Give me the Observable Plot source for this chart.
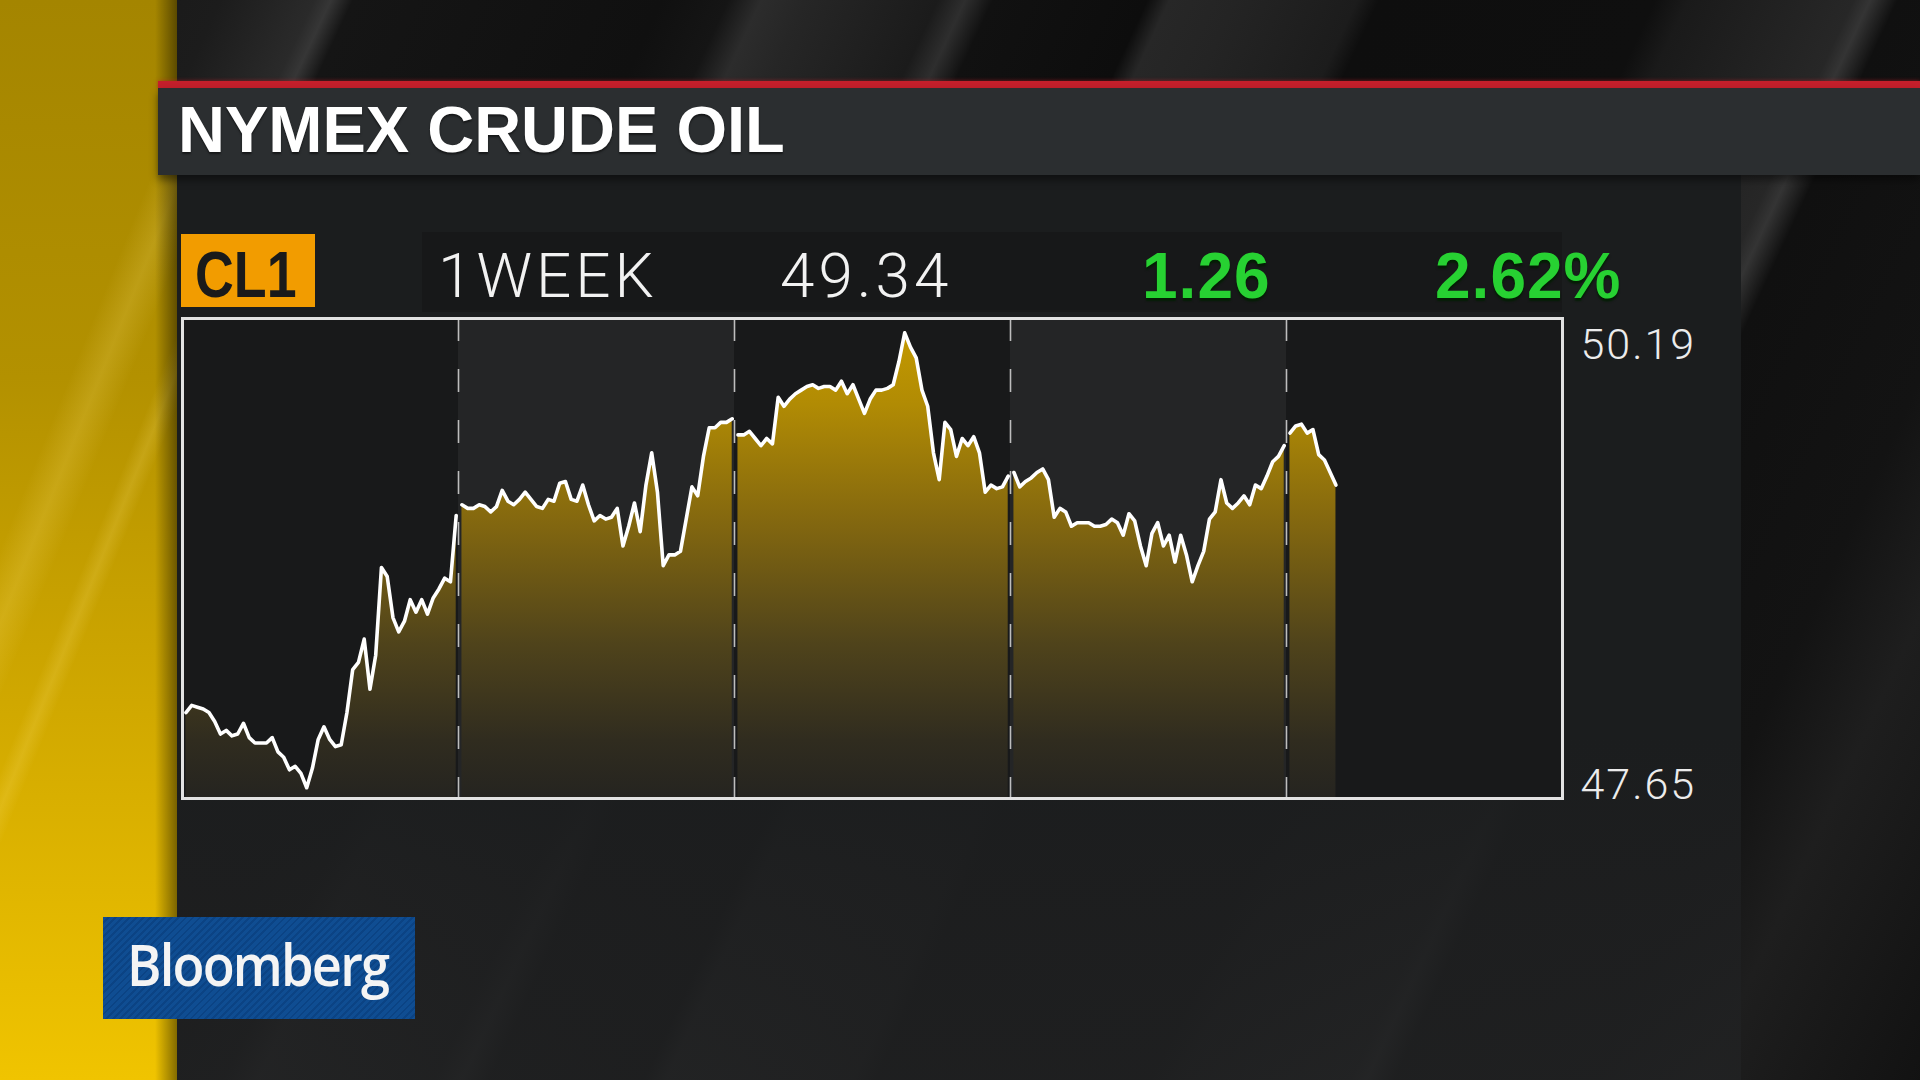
<!DOCTYPE html>
<html>
<head>
<meta charset="utf-8">
<script src="https://cdn.jsdelivr.net/npm/d3@7"></script>
<script src="https://cdn.jsdelivr.net/npm/@observablehq/plot@0.6"></script>
<style>
  html, body { margin: 0; padding: 0; width: 1920px; height: 1080px; overflow: hidden; background: #121212; }
  body { position: relative; font-family: "Liberation Sans", Arial, sans-serif; }
  .abs { position: absolute; }
  #stripes { left: 0; top: 0; width: 1920px; height: 1080px;
    background: linear-gradient(115deg,
      #161616 0px, #1c1c1c 200px, #2a2a2a 285px, #363636 300px, #151515 320px, #101010 600px,
      #151515 660px, #2c2c2c 690px, #262626 730px, #1b1b1b 850px, #2e2e2e 875px, #111111 900px,
      #0d0d0d 1040px, #272727 1060px, #242424 1120px, #1c1c1c 1230px, #0e0e0e 1250px,
      #0f0f0f 1500px, #1a1a1a 1530px, #272727 1680px, #343434 1695px, #101010 1720px,
      #131313 1900px, #1e1e1e 2000px, #121212 2200px); }
  #yellow { left: 0; top: 0; width: 177px; height: 1080px;
    background: linear-gradient(180deg, #a48500 0%, #b39100 35%, #d0a800 65%, #f0c400 100%); overflow: hidden; }
  #yellow .band { position: absolute; width: 60px; height: 1400px; top: -200px; transform: skewX(-22deg);
    background: linear-gradient(90deg, rgba(255,230,120,0) 0%, rgba(255,230,120,0.18) 50%, rgba(255,230,120,0) 100%); }
  #yellow .shade { position: absolute; right: 0; top: 0; width: 22px; height: 1080px;
    background: linear-gradient(90deg, rgba(0,0,0,0) 0%, rgba(0,0,0,0.45) 100%); }
  #panel { left: 177px; top: 175px; width: 1564px; height: 905px;
    background: linear-gradient(180deg, #1b1d1e 0%, #1b1d1e 62%, rgba(30,31,32,0.92) 78%, rgba(33,34,35,0.85) 100%); }
  #headband { left: 422px; top: 232px; width: 1140px; height: 80px; background: rgba(0,0,0,0.14); }
  #redline { left: 158px; top: 81px; width: 1762px; height: 7px; background: #c41f2b;
    box-shadow: 0 0 4px rgba(200,30,40,0.6); }
  #titlebar { left: 158px; top: 88px; width: 1762px; height: 87px; background: #2b2e30;
    box-shadow: 0 5px 8px rgba(0,0,0,0.45); }
  #title { left: 178px; top: 97px; font-size: 65px; line-height: 1; font-weight: bold; color: #ffffff;
    white-space: nowrap; text-shadow: 0 2px 2px rgba(0,0,0,0.5); }
  #tickerbox { left: 181px; top: 234px; width: 134px; height: 73px; background: #f29c00; }
  #ticker { left: 195px; top: 243px; font-size: 64px; line-height: 1; font-weight: bold; color: #1a1a1a;
    transform: scaleX(0.84); transform-origin: left top; white-space: nowrap; }
  .light { font-family: Roboto, "Liberation Sans", sans-serif; font-weight: 300; color: #f2f2f2;
    font-size: 62px; line-height: 1; letter-spacing: 4px; white-space: nowrap; }
  .green { font-size: 64px; line-height: 1; font-weight: bold; color: #27d132; white-space: nowrap;
    letter-spacing: 1px; text-shadow: 0 3px 2px rgba(0,30,0,0.85); }
  #logo { left: 103px; top: 917px; width: 312px; height: 102px;
    background: repeating-linear-gradient(135deg, #0f4d92 0px, #0f4d92 3px, #0b4384 3px, #0b4384 5px); }
  #brand { left: 127px; top: 936px; font-family: "Open Sans", "Liberation Sans", sans-serif; font-weight: 600;
    font-size: 57px; line-height: 1; color: #f4f4f4; letter-spacing: -2px; white-space: nowrap;
    transform: scaleX(0.92); transform-origin: left top; }
  #chart { left: 0; top: 0; width: 1920px; height: 1080px; z-index: 2; }
</style>
</head>
<body>
<div id="stripes" class="abs"></div>
<div id="panel" class="abs"></div>
<div id="yellow" class="abs"><div class="band" style="left:20px"></div><div class="band" style="left:110px;width:30px"></div><div class="shade"></div></div>
<div id="headband" class="abs"></div>
<div id="redline" class="abs"></div>
<div id="titlebar" class="abs"></div>
<div id="title" class="abs"></div>
<div id="tickerbox" class="abs"></div>
<div id="ticker" class="abs"></div>
<div id="period" class="abs light" style="left:438px; top:245px;"></div>
<div id="last" class="abs light" style="left:780px; top:245px;"></div>
<div id="chg" class="abs green" style="left:1142px; top:244px;"></div>
<div id="pct" class="abs green" style="left:1435px; top:244px;"></div>
<div id="logo" class="abs"></div>
<div id="brand" class="abs"></div>
<div id="chart" class="abs"></div>
<script>
// ---- header texts ----
const title = "NYMEX CRUDE OIL";
const ticker = "CL1";
const period = "1WEEK";
const lastPrice = 49.34;
const netChange = 1.26;
const pctChange = 2.62;
const brand = "Bloomberg";

// ---- y labels (period high / low) and scale domain ----
const highLow = [50.19, 47.65];
const yDomain = [47.59, 50.27];

// ---- time layout: 5 daily sessions, half-hour samples ----
const dayCount = 5;
const hoursPerDay = 24;
const sessionOffset = 0.3;
const sampleStep = 0.5;

// ---- prices ----
const day1 = [48.07, 48.11, 48.10, 48.09, 48.07, 48.02, 47.95, 47.97, 47.94, 47.95, 48.01, 47.93,
  47.90, 47.90, 47.90, 47.93, 47.85, 47.82, 47.75, 47.77, 47.73, 47.65, 47.76, 47.92,
  47.99, 47.92, 47.88, 47.89, 48.07, 48.31, 48.35, 48.48, 48.20, 48.39, 48.88, 48.83,
  48.60, 48.52, 48.58, 48.70, 48.63, 48.70, 48.62, 48.71, 48.76, 48.82, 48.80, 49.17];
const day2 = [49.23, 49.21, 49.21, 49.23, 49.22, 49.19, 49.22, 49.31, 49.25, 49.23, 49.26, 49.30,
  49.26, 49.22, 49.21, 49.26, 49.25, 49.35, 49.36, 49.26, 49.25, 49.34, 49.23, 49.14,
  49.17, 49.15, 49.16, 49.21, 49.00, 49.11, 49.24, 49.08, 49.34, 49.52, 49.30, 48.89,
  48.95, 48.95, 48.97, 49.15, 49.33, 49.28, 49.50, 49.66, 49.66, 49.69, 49.69, 49.71];
const day3 = [49.62, 49.62, 49.64, 49.60, 49.56, 49.60, 49.57, 49.83, 49.78, 49.82, 49.85, 49.87,
  49.89, 49.90, 49.88, 49.89, 49.89, 49.87, 49.92, 49.85, 49.90, 49.82, 49.74, 49.82,
  49.87, 49.87, 49.88, 49.90, 50.03, 50.19, 50.11, 50.05, 49.87, 49.78, 49.52, 49.37,
  49.69, 49.65, 49.50, 49.60, 49.56, 49.61, 49.52, 49.30, 49.34, 49.32, 49.33, 49.39];
const day4 = [49.41, 49.33, 49.36, 49.38, 49.41, 49.43, 49.37, 49.16, 49.21, 49.19, 49.11, 49.13,
  49.13, 49.13, 49.11, 49.11, 49.12, 49.15, 49.13, 49.06, 49.18, 49.14, 49.00, 48.89,
  49.07, 49.13, 49.00, 49.06, 48.91, 49.06, 48.95, 48.80, 48.89, 48.97, 49.15, 49.19,
  49.37, 49.24, 49.21, 49.24, 49.28, 49.23, 49.34, 49.32, 49.39, 49.47, 49.50, 49.56];
const day5 = [49.63, 49.67, 49.68, 49.63, 49.65, 49.51, 49.48, 49.41, 49.34];

// ---- header text into the page ----
document.getElementById("title").textContent = title;
document.getElementById("ticker").textContent = ticker;
document.getElementById("period").textContent = period;
document.getElementById("last").textContent = lastPrice.toFixed(2);
document.getElementById("chg").textContent = netChange.toFixed(2);
document.getElementById("pct").textContent = pctChange.toFixed(2) + "%";
document.getElementById("brand").textContent = brand;

// ---- build table ----
const days = [day1, day2, day3, day4, day5];
const rows = days.flatMap((prices, d) =>
  prices.map((p, k) => ({day: d, t: d * hoursPerDay + sessionOffset + sampleStep * k, price: p})));
const dayIdx = d3.range(dayCount);
const evenDays = dayIdx.filter(d => d % 2 === 0);
const oddDays = dayIdx.filter(d => d % 2 === 1);
const dividers = dayIdx.slice(1).map(d => d * hoursPerDay);

const chart = Plot.plot({
  width: 1920,
  height: 1080,
  marginLeft: 182,
  marginRight: 358,
  marginTop: 318,
  marginBottom: 282,
  x: {domain: [0, dayCount * hoursPerDay], axis: null},
  y: {domain: yDomain, axis: null},
  style: {background: "transparent", overflow: "visible"},
  marks: [
    Plot.rect(evenDays, {x1: d => d * hoursPerDay, x2: d => (d + 1) * hoursPerDay, fill: "#18191a"}),
    Plot.rect(oddDays, {x1: d => d * hoursPerDay, x2: d => (d + 1) * hoursPerDay, fill: "#242526"}),
    Plot.areaY(rows, {x: "t", y1: yDomain[0], y2: "price", z: "day", fill: "url(#goldFill)"}),
    Plot.ruleX(dividers, {stroke: "#bdbdbd", strokeWidth: 1.6, strokeDasharray: "23,28"}),
    Plot.lineY(rows, {x: "t", y: "price", z: "day", stroke: "#ffffff", strokeWidth: 3.6,
      strokeLinejoin: "round", strokeLinecap: "round"}),
    Plot.frame({stroke: "#e2e2e2", strokeWidth: 3}),
    Plot.text([highLow[0]], {y: d => d, text: d => d.toFixed(2), frameAnchor: "right", textAnchor: "start",
      lineAnchor: "top", dx: 18, dy: -4, fill: "#ececec", fontSize: 43, fontWeight: 300, fontFamily: "Roboto"}),
    Plot.text([highLow[1]], {y: d => d, text: d => d.toFixed(2), frameAnchor: "right", textAnchor: "start",
      lineAnchor: "bottom", dx: 18, dy: 11, fill: "#ececec", fontSize: 43, fontWeight: 300, fontFamily: "Roboto"})
  ]
});

// gradient fill for the area, anchored to the y scale
const ys = chart.scale("y");
const defs = d3.select(chart).insert("defs", ":first-child");
const grad = defs.append("linearGradient").attr("id", "goldFill")
  .attr("gradientUnits", "userSpaceOnUse")
  .attr("x1", 0).attr("x2", 0)
  .attr("y1", ys.apply(yDomain[1])).attr("y2", ys.apply(yDomain[0]));
[[0, "#c69c00"], [0.18, "#b18b04"], [0.42, "#84680f"], [0.68, "#4f431b"], [0.88, "#302c1f"], [1, "#252420"]]
  .forEach(([o, c]) => grad.append("stop").attr("offset", o).attr("stop-color", c));
d3.select(chart).selectAll("text").style("letter-spacing", "2px");

document.getElementById("chart").appendChild(chart);
</script>
</body>
</html>
